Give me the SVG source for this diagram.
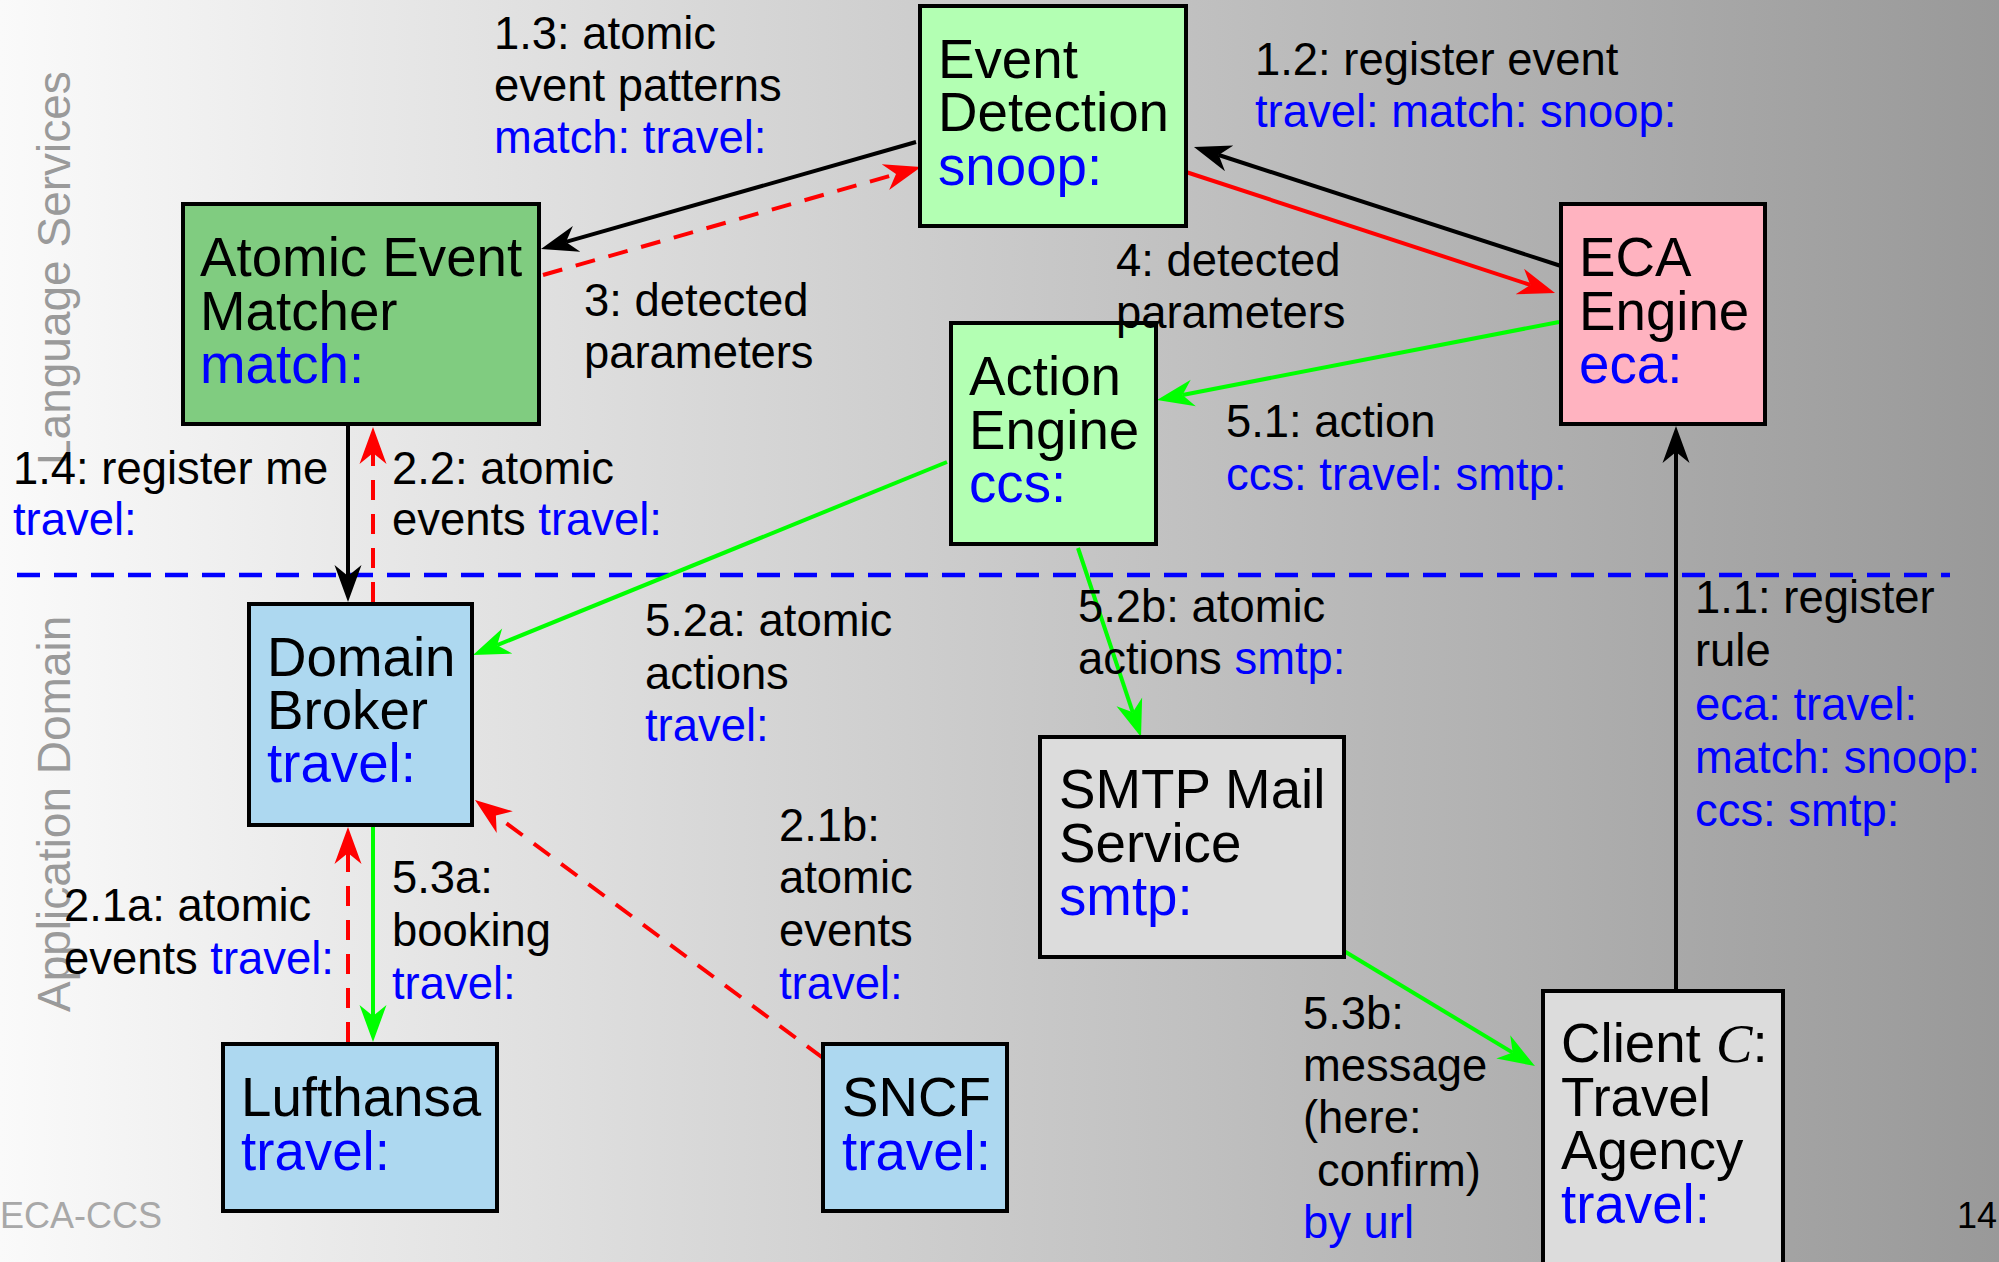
<svg xmlns="http://www.w3.org/2000/svg" width="1999" height="1262" viewBox="0 0 1999 1262">
<style>
text{font-family:"Liberation Sans",Arial,Helvetica,sans-serif;}
.nt{font-size:54.7px;fill:#000;}
.lb{font-size:45.4px;fill:#000;}
.b{fill:#0000ff;}
.side{font-size:46px;fill:#9a9a9a;}
.box{stroke:#000;stroke-width:4;}
.k{stroke:#000;stroke-width:4;fill:none;}
.r{stroke:#ff0000;stroke-width:4;fill:none;}
.rd{stroke:#ff0000;stroke-width:4;fill:none;stroke-dasharray:20 14;}
.g{stroke:#00ff00;stroke-width:4;fill:none;}
</style>
<defs>
<linearGradient id="bg" x1="0" y1="0" x2="1" y2="0">
<stop offset="0" stop-color="#fafafa"/>
<stop offset="1" stop-color="#999999"/>
</linearGradient>
<marker id="ak" markerUnits="userSpaceOnUse" viewBox="-14 -16 44 32" refX="0" refY="0" markerWidth="44" markerHeight="32" orient="auto"><path d="M26,0 L-11,-13.5 L0,0 L-11,13.5 Z" fill="#000"/></marker>
<marker id="ar" markerUnits="userSpaceOnUse" viewBox="-14 -16 44 32" refX="0" refY="0" markerWidth="44" markerHeight="32" orient="auto"><path d="M26,0 L-11,-13.5 L0,0 L-11,13.5 Z" fill="#ff0000"/></marker>
<marker id="ag" markerUnits="userSpaceOnUse" viewBox="-14 -16 44 32" refX="0" refY="0" markerWidth="44" markerHeight="32" orient="auto"><path d="M26,0 L-11,-13.5 L0,0 L-11,13.5 Z" fill="#00ff00"/></marker>
</defs>
<rect x="0" y="0" width="1999" height="1262" fill="url(#bg)"/>
<text class="side" transform="translate(70,465) rotate(-90)">Language Services</text>
<text class="side" transform="translate(70,1012) rotate(-90)">Application Domain</text>
<text x="0" y="1228" style="font-size:36px;fill:#a8a8a8">ECA-CCS</text>
<text x="1957" y="1228" style="font-size:36px;fill:#000">14</text>
<line x1="17" y1="575" x2="1950" y2="575" stroke="#0000ff" stroke-width="4.5" stroke-dasharray="23 14"/>
<g id="connectors">
<line class="k" x1="916" y1="142" x2="566" y2="241.9" marker-end="url(#ak)"/>
<line class="rd" x1="543" y1="275" x2="896" y2="174.1" marker-end="url(#ar)"/>
<line class="k" x1="1561" y1="266" x2="1218.7" y2="155" marker-end="url(#ak)"/>
<line class="r" x1="1186" y1="172" x2="1530.3" y2="284.9" marker-end="url(#ar)"/>
<line class="g" x1="1559" y1="322" x2="1182.5" y2="395" marker-end="url(#ag)"/>
<line class="g" x1="947" y1="462" x2="497.1" y2="645.2" marker-end="url(#ag)"/>
<line class="g" x1="1078" y1="548" x2="1132.8" y2="712.3" marker-end="url(#ag)"/>
<line class="g" x1="1339" y1="948" x2="1512.7" y2="1052.6" marker-end="url(#ag)"/>
<line class="k" x1="1676" y1="991" x2="1676" y2="452" marker-end="url(#ak)"/>
<line class="k" x1="348" y1="424" x2="348" y2="576" marker-end="url(#ak)"/>
<line class="rd" x1="373" y1="602" x2="373" y2="453" marker-end="url(#ar)"/>
<line class="rd" x1="348" y1="1042" x2="348" y2="853" marker-end="url(#ar)"/>
<line class="g" x1="373" y1="827" x2="373" y2="1016" marker-end="url(#ag)"/>
<line class="rd" x1="823" y1="1058" x2="495.9" y2="815.5" marker-end="url(#ar)"/>
</g>
<g id="event-detection">
<rect class="box" x="920" y="6" width="266" height="220" fill="#b3ffb3"/>
<text class="nt" x="938" y="77.5">Event</text>
<text class="nt" x="938" y="131">Detection</text>
<text class="nt b" x="938" y="184.5">snoop:</text>
</g>
<g id="atomic-event-matcher">
<rect class="box" x="183" y="204" width="356" height="220" fill="#80cc80"/>
<text class="nt" x="200" y="276">Atomic Event</text>
<text class="nt" x="200" y="329.5">Matcher</text>
<text class="nt b" x="200" y="383">match:</text>
</g>
<g id="eca-engine">
<rect class="box" x="1561" y="204" width="204" height="220" fill="#ffb3c0"/>
<text class="nt" x="1579" y="276">ECA</text>
<text class="nt" x="1579" y="329.5">Engine</text>
<text class="nt b" x="1579" y="383">eca:</text>
</g>
<g id="action-engine">
<rect class="box" x="951" y="323" width="205" height="221" fill="#b3ffb3"/>
<text class="nt" x="969" y="395">Action</text>
<text class="nt" x="969" y="448.5">Engine</text>
<text class="nt b" x="969" y="502">ccs:</text>
</g>
<g id="domain-broker">
<rect class="box" x="249" y="604" width="223" height="221" fill="#add8f0"/>
<text class="nt" x="267" y="676">Domain</text>
<text class="nt" x="267" y="729">Broker</text>
<text class="nt b" x="267" y="782">travel:</text>
</g>
<g id="lufthansa">
<rect class="box" x="223" y="1044" width="274" height="167" fill="#add8f0"/>
<text class="nt" x="241" y="1116">Lufthansa</text>
<text class="nt b" x="241" y="1170">travel:</text>
</g>
<g id="sncf">
<rect class="box" x="823" y="1044" width="184" height="167" fill="#add8f0"/>
<text class="nt" x="842" y="1116">SNCF</text>
<text class="nt b" x="842" y="1170">travel:</text>
</g>
<g id="smtp-mail-service">
<rect class="box" x="1040" y="737" width="304" height="220" fill="#dcdcdc"/>
<text class="nt" x="1059" y="808">SMTP Mail</text>
<text class="nt" x="1059" y="862">Service</text>
<text class="nt b" x="1059" y="915">smtp:</text>
</g>
<g id="client">
<rect class="box" x="1543" y="991" width="240" height="290" fill="#dcdcdc"/>
<text class="nt" x="1561" y="1062">Client <tspan style="font-family:'Liberation Serif',serif;font-style:italic">C</tspan>:</text>
<text class="nt" x="1561" y="1116">Travel</text>
<text class="nt" x="1561" y="1169">Agency</text>
<text class="nt b" x="1561" y="1223">travel:</text>
</g>
<g id="labels">
<text class="lb" x="494" y="49">1.3: atomic</text>
<text class="lb" x="494" y="101">event patterns</text>
<text class="lb b" x="494" y="153">match: travel:</text>
<text class="lb" x="1255" y="75">1.2: register event</text>
<text class="lb b" x="1255" y="127">travel: match: snoop:</text>
<text class="lb" x="584" y="316">3: detected</text>
<text class="lb" x="584" y="368">parameters</text>
<text class="lb" x="1116" y="276">4: detected</text>
<text class="lb" x="1116" y="328">parameters</text>
<text class="lb" x="1226" y="437">5.1: action</text>
<text class="lb b" x="1226" y="490">ccs: travel: smtp:</text>
<text class="lb" x="13" y="483.5">1.4: register me</text>
<text class="lb b" x="13" y="535">travel:</text>
<text class="lb" x="392" y="483.5">2.2: atomic</text>
<text class="lb" x="392" y="535">events <tspan class="b">travel:</tspan></text>
<text class="lb" x="645" y="636">5.2a: atomic</text>
<text class="lb" x="645" y="688.5">actions</text>
<text class="lb b" x="645" y="741">travel:</text>
<text class="lb" x="1078" y="622">5.2b: atomic</text>
<text class="lb" x="1078" y="674">actions <tspan class="b">smtp:</tspan></text>
<text class="lb" x="1695" y="613">1.1: register</text>
<text class="lb" x="1695" y="665.5">rule</text>
<text class="lb b" x="1695" y="719.5">eca: travel:</text>
<text class="lb b" x="1695" y="773">match: snoop:</text>
<text class="lb b" x="1695" y="826">ccs: smtp:</text>
<text class="lb" x="64" y="921">2.1a: atomic</text>
<text class="lb" x="64" y="973.5">events <tspan class="b">travel:</tspan></text>
<text class="lb" x="392" y="893">5.3a:</text>
<text class="lb" x="392" y="946">booking</text>
<text class="lb b" x="392" y="999">travel:</text>
<text class="lb" x="779" y="841">2.1b:</text>
<text class="lb" x="779" y="893">atomic</text>
<text class="lb" x="779" y="946">events</text>
<text class="lb b" x="779" y="999">travel:</text>
<text class="lb" x="1303" y="1028.5">5.3b:</text>
<text class="lb" x="1303" y="1081">message</text>
<text class="lb" x="1303" y="1133">(here:</text>
<text class="lb" x="1317" y="1185.5">confirm)</text>
<text class="lb b" x="1303" y="1238">by url</text>
</g>
</svg>
